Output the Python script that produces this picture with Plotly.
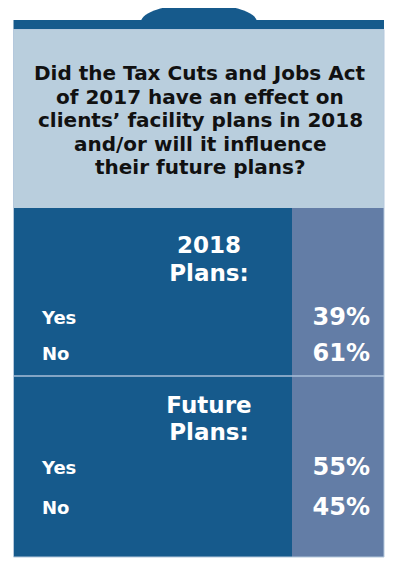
import plotly.graph_objects as go

# survey question + results
question = ["Did the Tax Cuts and Jobs Act", "of 2017 have an effect on",
            "clients\u2019 facility plans in 2018", "and/or will it influence",
            "their future plans?"]
section_titles = [["2018", "Plans:"], ["Future", "Plans:"]]
answers = ["Yes", "No"]
pct_2018 = [39, 61]
pct_future = [55, 45]

dark = "#165A8C"
mid = "#637DA6"
light = "#B9CEDD"
font = "DejaVu Sans"

W, H = 400, 573
off = 8  # page body margin, so axis units = window pixels
left, right, split = 13.5, 384, 292

# vertical positions (pixels from top)
q_y0, q_step = 73, 23.5
head_y = [[247, 275], [407, 434]]
row_y = [[319, 355], [469, 509]]

fig = go.Figure()

shapes = [
    dict(type="circle", x0=141, x1=257, y0=4, y1=40, fillcolor=dark, line_width=0),
    dict(type="rect", x0=left, x1=right, y0=20, y1=29.5, fillcolor=dark, line_width=0),
    dict(type="rect", x0=left, x1=right, y0=29.5, y1=208, fillcolor=light, line_width=0),
    dict(type="rect", x0=left, x1=split, y0=208, y1=557, fillcolor=dark, line_width=0),
    dict(type="rect", x0=split, x1=right, y0=208, y1=557, fillcolor=mid, line_width=0),
    dict(type="line", x0=left, x1=right, y0=376, y1=376, line=dict(color="#A9BFD8", width=1.5)),
    dict(type="rect", x0=left, x1=right, y0=29.5, y1=557, line=dict(color="#B4C8DC", width=1)),
]
for s in shapes:
    s["layer"] = "below"

for k, (titles, vals) in enumerate(zip(section_titles, [pct_2018, pct_future])):
    fig.add_trace(go.Scatter(x=[209] * len(titles), y=head_y[k], mode="text", text=titles,
                             textposition="middle center",
                             textfont=dict(family=font, size=23, color="white", weight="bold")))
    fig.add_trace(go.Scatter(x=[42] * len(answers), y=row_y[k], mode="text", text=answers,
                             textposition="middle right",
                             textfont=dict(family=font, size=18, color="white", weight="bold")))
    fig.add_trace(go.Scatter(x=[370] * len(vals), y=row_y[k], mode="text",
                             text=[f"{v}%" for v in vals], textposition="middle left",
                             textfont=dict(family=font, size=24, color="white", weight="bold")))

for i, line in enumerate(question):
    fig.add_annotation(x=200, y=q_y0 + i * q_step, xref="x", yref="y", showarrow=False,
                       text=line, font=dict(family=font, size=20, color="#111111", weight="bold"))

fig.update_layout(width=W, height=H, margin=dict(l=0, r=0, t=0, b=0),
                  paper_bgcolor="white", plot_bgcolor="white", showlegend=False,
                  shapes=shapes, hovermode=False)
fig.update_xaxes(range=[off, W + off], visible=False, fixedrange=True)
fig.update_yaxes(range=[H + off, off], visible=False, fixedrange=True)

fig.write_html("out.html", config={"displayModeBar": False})
